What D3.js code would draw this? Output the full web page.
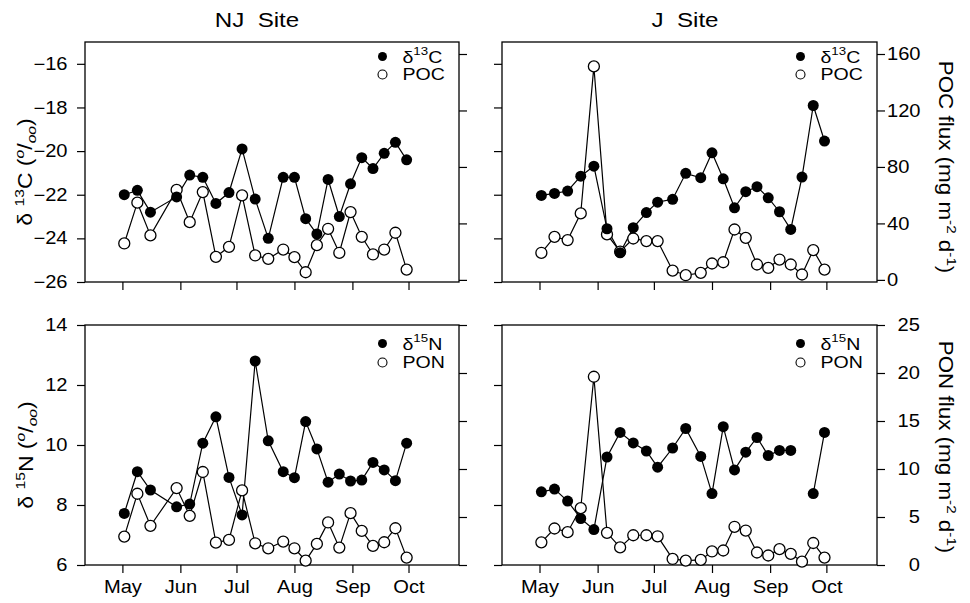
<!DOCTYPE html>
<html>
<head>
<meta charset="utf-8">
<script src="https://cdn.jsdelivr.net/npm/d3@7"></script>
<style>
  body { margin: 0; background: #fff; }
  svg text { font-family: "Liberation Sans", Arial, Helvetica, sans-serif; fill: #000; }
</style>
</head>
<body>
<svg id="chart" width="970" height="603"></svg>
<script>
// sampling dates (month-day), year is arbitrary
const njDates = ["05-02","05-09","05-16","05-30","06-06","06-13","06-20","06-27","07-04","07-11","07-18","07-26",
                 "08-01","08-07","08-13","08-19","08-25","08-31","09-06","09-12","09-18","09-24","09-30"];
const jDates  = ["05-02","05-09","05-16","05-23","05-30","06-06","06-13","06-20","06-27","07-03","07-11","07-18",
                 "07-26","08-01","08-07","08-13","08-19","08-25","08-31","09-06","09-12","09-18","09-24","09-30"];

// NJ site
const njD13C = [-22.0,-21.8,-22.8,-22.1,-21.1,-21.2,-22.4,-21.9,-19.9,-22.2,-24.0,-21.2,
                -21.2,-23.1,-23.8,-21.3,-23.0,-21.5,-20.3,-20.8,-20.1,-19.6,-20.4];
const njPOC  = [25.8,54.7,31.5,63.7,40.9,62.2,16.3,23.4,59.9,17.3,14.9,21.5,
                16.1,5.4,24.6,36.2,19.2,48.0,30.5,18.0,21.5,33.4,7.3];
const njD15N = [7.72,9.11,8.50,7.94,8.03,10.06,10.94,8.92,7.67,12.80,10.14,9.11,
                8.91,10.78,9.87,8.76,9.03,8.80,8.83,9.42,9.17,8.81,10.06];
const njPON  = [2.96,7.42,4.08,8.01,5.12,9.69,2.33,2.61,7.77,2.26,1.74,2.44,
                1.74,0.45,2.20,4.43,1.81,5.40,3.55,1.99,2.37,3.83,0.77];

// J site
const jD13C = [-22.03,-21.94,-21.83,-21.15,-20.69,-23.56,-24.66,-23.51,-22.82,-22.34,-22.21,-21.02,
               -21.22,-20.08,-21.27,-22.60,-21.86,-21.63,-22.14,-22.78,-23.59,-21.19,-17.91,-19.54];
const jPOC  = [19.2,30.5,28.2,47.1,151.2,32.2,20.0,29.3,27.5,27.5,6.6,3.3,
               5.0,11.6,12.5,35.7,29.8,10.9,8.5,14.4,10.9,3.8,21.1,7.3];
const jD15N = [8.44,8.53,8.13,7.55,7.18,9.60,10.42,10.07,9.80,9.26,9.90,10.55,
               9.62,8.38,10.61,9.17,9.76,10.25,9.65,9.82,9.82,null,8.38,10.42];
const jPON  = [2.36,3.80,3.42,5.92,19.61,3.35,1.83,3.10,3.10,2.99,0.63,0.46,
               0.53,1.41,1.51,3.98,3.59,1.30,0.99,1.65,1.16,0.35,2.29,0.77];

const monthTicks = ["05-01","06-01","07-01","08-01","09-01","10-01"];
const d13CTicks = [-26,-24,-22,-20,-18,-16];
const d15NTicks = [6,8,10,12,14];
const pocTicks = [0,40,80,120,160];
const ponTicks = [0,5,10,15,20,25];
const titles = ["NJ  Site", "J  Site"];

const YEAR = 1993;
const parse = s => { const [m, d] = s.split("-").map(Number); return new Date(Date.UTC(YEAR, m - 1, d)); };
const xDomain = [parse("04-11"), parse("10-28")];
const SX = 1.15;   // the printed font is wide

const svg = d3.select("#chart");

const cols = [{x0: 85, x1: 459}, {x0: 502, x1: 877}];
const rows = [{y0: 42, y1: 282, leg: [14.5, 32.5]}, {y0: 325, y1: 565, leg: [18.5, 37.5]}];

const panels = [
  {col: 0, row: 0, dates: njDates, filled: njD13C, open: njPOC, lDom: [-26, -15], lTicks: d13CTicks,
   rDom: [-1.5, 168.5], rTicks: pocTicks, lLab: true, rLab: null, months: false, leg: ["13", "C", "POC"]},
  {col: 1, row: 0, dates: jDates, filled: jD13C, open: jPOC, lDom: [-26, -15], lTicks: d13CTicks,
   rDom: [-1.5, 168.5], rTicks: pocTicks, lLab: false, rLab: "start", months: false, leg: ["13", "C", "POC"]},
  {col: 0, row: 1, dates: njDates, filled: njD15N, open: njPON, lDom: [6, 14], lTicks: d15NTicks,
   rDom: [0, 25], rTicks: ponTicks, lLab: true, rLab: null, months: true, leg: ["15", "N", "PON"]},
  {col: 1, row: 1, dates: jDates, filled: jD15N, open: jPON, lDom: [6, 14], lTicks: d15NTicks,
   rDom: [0, 25], rTicks: ponTicks, lLab: false, rLab: "end", months: true, leg: ["15", "N", "PON"]}
];

function styleAxis(g, fs) {
  g.attr("font-size", fs).attr("font-family", null);
  g.select(".domain").remove();
  g.selectAll(".tick line").attr("stroke", "#000").attr("stroke-width", 1.2);
  g.selectAll(".tick text").attr("fill", "#000");
}

// rich text with super/subscripts; parts = [text, "sup"|"sub"|null, italic, newLineGap]
function richText(parent, x, y, rot, fs, parts, anchor) {
  const t = parent.append("text")
    .attr("transform", `translate(${x},${y}) rotate(${rot}) scale(${SX},1)`)
    .attr("font-size", fs)
    .attr("text-anchor", anchor || "middle")
    .attr("xml:space", "preserve")
    .style("white-space", "pre");
  let shift = 0;
  parts.forEach(([s, kind, it, gap]) => {
    const target = kind === "sup" ? -0.42 * fs : kind === "sub" ? 0.22 * fs : 0;
    const ts = t.append("tspan")
      .attr("dy", target - shift + (gap || 0))
      .attr("font-size", kind ? fs * 0.68 : fs)
      .attr("font-style", it ? "italic" : null)
      .text(s);
    if (gap) ts.attr("x", 0);
    shift = target;
  });
  return t;
}

panels.forEach(p => {
  const {x0, x1} = cols[p.col];
  const {y0, y1} = rows[p.row];
  const g = svg.append("g");
  const x = d3.scaleUtc().domain(xDomain).range([x0, x1]);
  const yL = d3.scaleLinear().domain(p.lDom).range([y1, y0]);
  const yR = d3.scaleLinear().domain(p.rDom).range([y1, y0]);
  const dates = p.dates.map(parse);

  // frame
  g.append("rect")
    .attr("x", x0).attr("y", y0).attr("width", x1 - x0).attr("height", y1 - y0)
    .attr("fill", "none").attr("stroke", "#000").attr("stroke-width", 1.3);

  // left axis
  const gl = g.append("g").attr("transform", `translate(${x0},0)`)
    .call(d3.axisLeft(yL).tickValues(p.lTicks).tickSize(8).tickPadding(7.2).tickSizeOuter(0)
      .tickFormat(p.lLab ? d3.format("d") : ""));
  styleAxis(gl, 17.5);
  gl.selectAll(".tick text").attr("transform", `scale(${SX},1)`);

  // right axis
  const gr = g.append("g").attr("transform", `translate(${x1},0)`)
    .call(d3.axisRight(yR).tickValues(p.rTicks).tickSize(8).tickPadding(0.7).tickSizeOuter(0)
      .tickFormat(p.rLab ? d3.format("d") : ""));
  styleAxis(gr, 17.5);
  gr.selectAll(".tick text").attr("transform", `scale(${SX},1)`);
  if (p.rLab === "end") gr.selectAll(".tick text").attr("text-anchor", "end").attr("x", 43 / SX);

  // bottom axis
  const gb = g.append("g").attr("transform", `translate(0,${y1})`)
    .call(d3.axisBottom(x).tickValues(monthTicks.map(parse)).tickSize(8).tickPadding(8).tickSizeOuter(0)
      .tickFormat(p.months ? d3.utcFormat("%b") : ""));
  styleAxis(gb, 17.5);
  gb.selectAll(".tick text").attr("transform", `scale(${SX},1)`);

  // series
  const filled = dates.map((d, i) => [d, p.filled[i]]);
  const open = dates.map((d, i) => [d, p.open[i]]);
  const lineL = d3.line().defined(d => d[1] != null).x(d => x(d[0])).y(d => yL(d[1]));
  const lineR = d3.line().defined(d => d[1] != null).x(d => x(d[0])).y(d => yR(d[1]));

  g.append("path").datum(open).attr("d", lineR)
    .attr("fill", "none").attr("stroke", "#000").attr("stroke-width", 1.2);
  g.append("path").datum(filled).attr("d", lineL)
    .attr("fill", "none").attr("stroke", "#000").attr("stroke-width", 1.2);

  g.selectAll(".open").data(open.filter(d => d[1] != null)).join("circle")
    .attr("cx", d => x(d[0])).attr("cy", d => yR(d[1])).attr("r", 5.5)
    .attr("fill", "#fff").attr("stroke", "#000").attr("stroke-width", 1.3);
  g.selectAll(".filled").data(filled.filter(d => d[1] != null)).join("circle")
    .attr("cx", d => x(d[0])).attr("cy", d => yL(d[1])).attr("r", 5.5)
    .attr("fill", "#000");

  // legend (one two-line text element)
  const lx = x1 - 76.5, tx = x1 - 56.5;
  const [ly1, ly2] = rows[p.row].leg;
  g.append("circle").attr("cx", lx).attr("cy", y0 + ly1).attr("r", 4.5).attr("fill", "#000");
  g.append("circle").attr("cx", lx).attr("cy", y0 + ly2).attr("r", 4.5)
    .attr("fill", "#fff").attr("stroke", "#000").attr("stroke-width", 1.1);
  richText(g, tx, y0 + ly1 + 6, 0, 17,
    [["δ"], [p.leg[0], "sup"], [p.leg[1]], [p.leg[2], null, false, ly2 - ly1]], "start");
});

// titles
titles.forEach((t, i) => {
  const cx = [257, 685][i];
  svg.append("text").attr("x", cx).attr("y", 27).attr("font-size", 21).attr("text-anchor", "middle")
    .attr("transform", `translate(${cx * (1 - SX)},0) scale(${SX},1)`)
    .attr("xml:space", "preserve").style("white-space", "pre").text(t);
});

// axis titles
const permil = [[" ("], ["o", "sup", true], ["/"], ["oo", "sub", true], [")"]];
richText(svg, 32, 172, -90, 20, [["δ "], ["13", "sup"], ["C"]].concat(permil));
richText(svg, 33, 455, -90, 20, [["δ "], ["15", "sup"], ["N"]].concat(permil));
richText(svg, 939, 167, 90, 19.5, [["POC flux (mg m"], ["-2", "sup"], [" d"], ["-1", "sup"], [")"]]);
richText(svg, 939, 447, 90, 19.5, [["PON flux (mg m"], ["-2", "sup"], [" d"], ["-1", "sup"], [")"]]);
</script>
</body>
</html>
